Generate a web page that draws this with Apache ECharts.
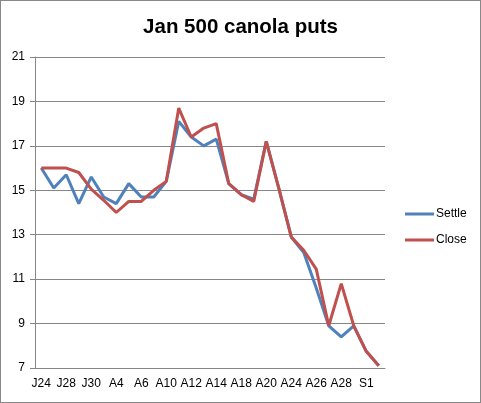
<!DOCTYPE html>
<html>
<head>
<meta charset="utf-8">
<script src="https://cdn.jsdelivr.net/npm/echarts@6.0.0/dist/echarts.min.js"></script>
<style>
  html, body { margin: 0; padding: 0; background: #fff; }
  #chart { width: 481px; height: 403px; box-sizing: border-box; border: 1px solid #888; }
</style>
</head>
<body>
<div id="chart"></div>
<script>
// trading days, only every other one gets a label
const days = ['J24', 'J27', 'J28', 'J29', 'J30', 'J31', 'A4', 'A5', 'A6', 'A7',
    'A10', 'A11', 'A12', 'A13', 'A14', 'A17', 'A18', 'A19', 'A20', 'A21',
    'A24', 'A25', 'A26', 'A27', 'A28', 'A31', 'S1', 'S2'];
const settle = [16.0, 15.1, 15.7, 14.4, 15.6, 14.7, 14.4, 15.3, 14.7, 14.7,
    15.4, 18.1, 17.4, 17.0, 17.3, 15.3, 14.8, 14.6, 17.2, 15.1,
    12.9, 12.2, 10.6, 8.9, 8.4, 8.9, 7.75, 7.1];
const close = [16.0, 16.0, 16.0, 15.8, 15.05, 14.55, 14.0, 14.5, 14.5, 15.0,
    15.4, 18.7, 17.4, 17.8, 18.0, 15.3, 14.8, 14.5, 17.2, 15.1,
    12.9, 12.3, 11.45, 8.9, 10.8, 8.9, 7.75, 7.1];

const chart = echarts.init(document.getElementById('chart'));
const gray = '#868686';
const font = 'Liberation Sans';

chart.setOption({
    animation: false,
    title: {
        text: 'Jan 500 canola puts',
        left: 'center',
        top: 11,
        textStyle: { fontFamily: font, fontSize: 20.5, fontWeight: 'bold', color: '#000' }
    },
    legend: {
        orient: 'vertical',
        left: 399,
        top: 202,
        itemWidth: 29,
        itemHeight: 3,
        itemGap: 14,
        icon: 'rect',
        textStyle: { fontFamily: font, fontSize: 12, color: '#000', padding: [0, 0, 0, -3] },
        data: ['Settle', 'Close']
    },
    grid: { left: 34, right: 95, top: 56, bottom: 34 },
    xAxis: {
        type: 'category',
        data: days,
        boundaryGap: true,
        axisLine: { lineStyle: { color: gray } },
        axisTick: { interval: 0, length: 4, lineStyle: { color: gray } },
        axisLabel: { interval: 1, color: '#000', fontFamily: font, fontSize: 12, margin: 10 }
    },
    yAxis: {
        type: 'value',
        min: 7,
        max: 21,
        interval: 2,
        axisLine: { show: true, lineStyle: { color: gray } },
        axisTick: { show: true, length: 5, lineStyle: { color: gray } },
        axisLabel: { color: '#000', fontFamily: font, fontSize: 12, margin: 10 },
        splitLine: { lineStyle: { color: gray } }
    },
    series: [
        {
            name: 'Settle',
            type: 'line',
            data: settle,
            symbol: 'none',
            color: '#4F81BD',
            lineStyle: { width: 3, color: '#4F81BD' }
        },
        {
            name: 'Close',
            type: 'line',
            data: close,
            symbol: 'none',
            color: '#C0504D',
            lineStyle: { width: 3, color: '#C0504D' }
        }
    ]
});
</script>
</body>
</html>
